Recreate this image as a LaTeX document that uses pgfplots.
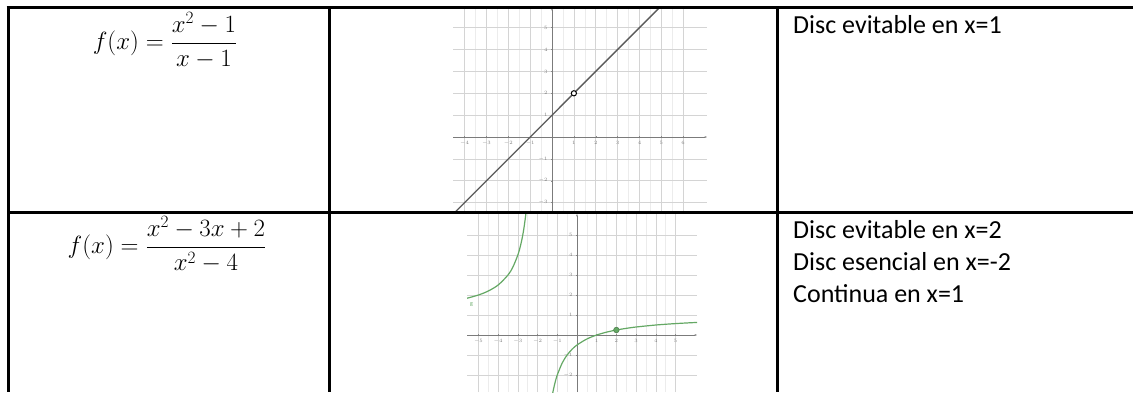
\documentclass[border=0pt]{standalone}
\usepackage{fontspec}
\setmainfont{Carlito}
\usepackage{pgfplots}
\pgfplotsset{compat=1.18}
\usetikzlibrary{arrows.meta}
\definecolor{ggGreen}{RGB}{100,168,100}
\definecolor{ggGray}{RGB}{90,90,90}
\definecolor{gridMaj}{RGB}{212,212,212}
\definecolor{gridMin}{RGB}{236,236,236}

\pgfplotsset{ggstyle/.style={
  scale only axis, axis lines=middle,
  axis line style={ggGray!80, line width=0.6pt, -{Stealth[length=2.5pt]}},
  grid=both, major grid style={gridMaj, line width=0.6pt},
  minor grid style={gridMin, line width=0.5pt}, minor tick num=1,
  tick style={ggGray!70, line width=0.4pt}, major tick length=2pt,
  minor tick length=0pt,
  tick label style={font=\fontsize{5}{5}\selectfont, text=gray},
  axis background/.style={fill=white},
}}

\begin{document}
\begin{tikzpicture}[x=1pt,y=1pt]
\useasboundingbox (0pt,0pt) rectangle (1133pt,-392pt);

% grafica 1: (x^2-1)/(x-1)
\begin{axis}[ggstyle, at={(453pt,-212pt)}, anchor=south west,
  width=254pt, height=204pt,
  xmin=-4.53, xmax=7.09, ymin=-3.43, ymax=5.9,
  xtick={-4,...,6}, ytick={-3,-2,-1,1,2,3,4,5}]
\addplot[ggGray, line width=1.3pt] coordinates {(-4.7,-3.7) (5.2,6.2)};
\addplot[only marks, mark=*, mark size=2.6pt,
  mark options={fill=white, draw=black, line width=1pt}] coordinates {(1,2)};
\end{axis}

% grafica 2: (x^2-3x+2)/(x^2-4)
\begin{axis}[ggstyle, at={(467pt,-392pt)}, anchor=south west,
  width=230pt, height=178pt,
  xmin=-5.58, xmax=6.09, ymin=-2.85, ymax=6.05,
  xtick={-5,...,5}, ytick={-2,-1,1,2,3,4,5}]
\addplot[ggGreen, line width=1.2pt, smooth] coordinates {
  (-5.6,1.833) (-5.0,2.0) (-4.5,2.2) (-4.0,2.5) (-3.5,3.0) (-3.25,3.4)
  (-3.0,4.0) (-2.9,4.333) (-2.8,4.75) (-2.7,5.286) (-2.6,6.0) (-2.55,6.455)};
\addplot[ggGreen, line width=1.2pt, smooth] coordinates {
  (-1.3,-3.286) (-1.2,-2.75) (-1.1,-2.333) (-1.0,-2.0) (-0.75,-1.4)
  (-0.5,-1.0) (-0.25,-0.714) (0,-0.5) (0.5,-0.2) (1,0) (1.5,0.143)
  (2,0.25) (2.5,0.333) (3,0.4) (4,0.5) (5,0.571) (6,0.625) (6.2,0.636)};
\addplot[only marks, mark=*, mark size=2.8pt,
  mark options={fill=ggGreen, draw=ggGreen!70!black, line width=0.5pt}] coordinates {(2,0.25)};
\node[text=ggGreen, font=\fontsize{6}{6}\selectfont] at (axis cs:-5.35,1.5) {g};
\end{axis}

% tabla
\draw[line width=3pt] (6.5pt,-7.5pt) -- (1133pt,-7.5pt);
\draw[line width=3pt] (8pt,-6pt) -- (8pt,-392pt);
\draw[line width=3pt] (329pt,-6pt) -- (329pt,-392pt);
\draw[line width=3pt] (777pt,-6pt) -- (777pt,-392pt);
\draw[line width=3pt] (8pt,-212pt) -- (1133pt,-212pt);

% formulas
\node[anchor=base, inner sep=0, font=\fontsize{24}{30}\selectfont]
  at (165pt,-49.5pt) {$f(x)=\displaystyle\frac{x^2-1}{x-1}$};
\node[anchor=base, inner sep=0, font=\fontsize{24}{30}\selectfont]
  at (167pt,-253.5pt) {$f(x)=\displaystyle\frac{x^2-3x+2}{x^2-4}$};

% textos
\begin{scope}[every node/.style={anchor=base west, inner sep=0,
    font=\fontsize{26}{32}\selectfont}]
\node at (793pt,-33pt) {Disc evitable en x=1};
\node at (793pt,-238pt) {Disc evitable en x=2};
\node at (793pt,-270pt) {Disc esencial en x=-2};
\node at (793pt,-302pt) {Continua en x=1};
\end{scope}
\end{tikzpicture}
\end{document}
